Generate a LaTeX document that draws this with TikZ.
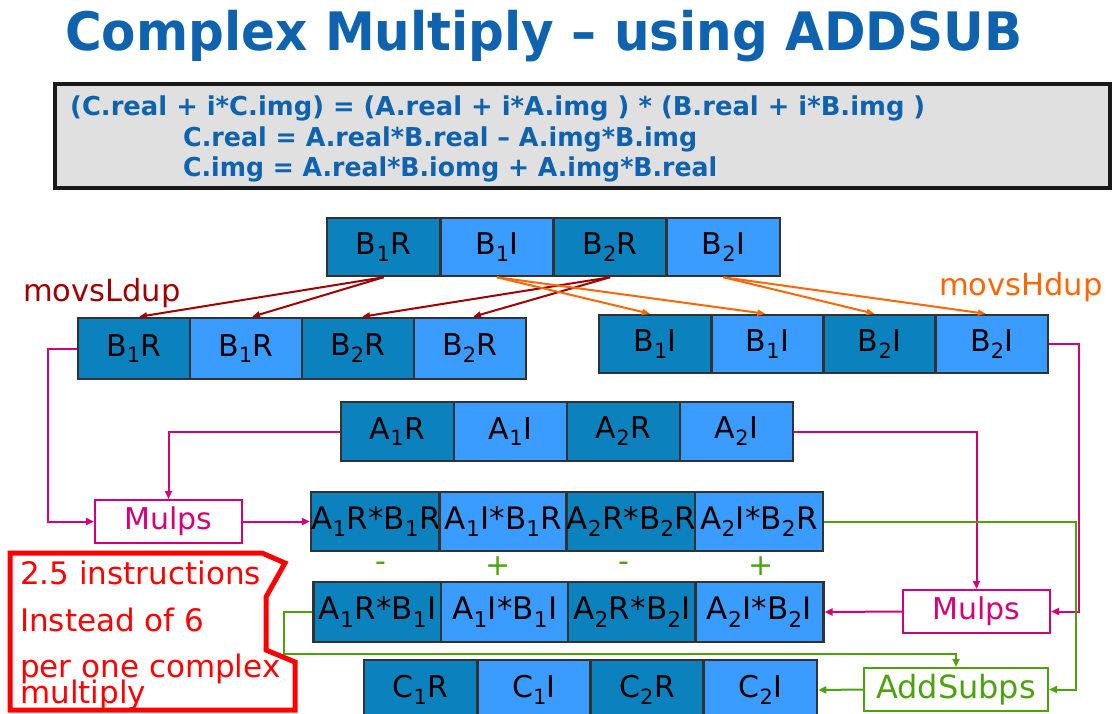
\documentclass[tikz,border=0pt]{standalone}
\usepackage{fontspec}
\setmainfont{DejaVu Sans}
\usetikzlibrary{arrows.meta,calc}

\definecolor{cdark}{RGB}{11,130,190}
\definecolor{clight}{RGB}{58,156,255}
\definecolor{cedge}{RGB}{50,50,50}
\definecolor{tblue}{RGB}{14,98,174}
\definecolor{fgray}{RGB}{224,224,224}
\definecolor{pinkc}{RGB}{214,0,118}
\definecolor{greenc}{RGB}{76,163,14}
\definecolor{dredc}{RGB}{160,0,0}
\definecolor{orangec}{RGB}{255,102,0}
\definecolor{redc}{RGB}{255,0,0}

% stretch or squeeze a text horizontally to a given width
\newcommand\fitto[2]{\resizebox{#1}{\height}{#2}}
\newcommand\sub[1]{\textsubscript{#1}}

\tikzset{
  cell/.style={draw=cedge, line width=2.5pt, inner sep=0pt, text=black,
               font=\fontsize{30}{30}\selectfont},
  dk/.style={cell, fill=cdark},
  lt/.style={cell, fill=clight},
  prod/.style={font=\fontsize{31}{31}\selectfont, minimum width=127.75pt},
  opbox/.style={draw, fill=white, line width=2pt, minimum height=43pt,
                inner sep=0pt, font=\fontsize{30}{30}\selectfont},
  wire/.style={line width=2pt, -{Triangle[length=8pt,width=7pt]}},
  dupwire/.style={line width=2pt, -{Triangle[length=8pt,width=6pt]}},
  note/.style={anchor=base west, inner sep=0pt, text=redc,
               font=\fontsize{31}{31}\selectfont},
}

\begin{document}
\begin{tikzpicture}[x=1pt,y=-1pt]
\useasboundingbox (0,0) rectangle (1114,713);

% title
\node[anchor=base west, inner sep=0pt, text=tblue, font=\bfseries\fontsize{53}{53}\selectfont]
  (title) at (65,50) {\fitto{957pt}{Complex Multiply – using ADDSUB}};

% formula panel
\node[draw=black!90, line width=4pt, fill=fgray, minimum width=1055pt, minimum height=104pt,
      inner sep=0pt] (panel) at (582.5,136) {};
\begin{scope}[every node/.style={anchor=base west, inner sep=0pt, text=tblue,
              font=\bfseries\fontsize{26}{26}\selectfont}]
  \node (f1) at (70,115) {\fitto{855pt}{(C.real + i*C.img) = (A.real + i*A.img ) * (B.real + i*B.img )}};
  \node (f2) at (183,146) {\fitto{514pt}{C.real = A.real*B.real – A.img*B.img}};
  \node (f3) at (183,176) {\fitto{534pt}{C.img = A.real*B.iomg + A.img*B.real}};
\end{scope}

% source register B
\begin{scope}[every node/.append style={minimum width=113.25pt, minimum height=58pt}]
  \node[dk] (b1) at (383.6,247) {B\sub{1}R};
  \node[lt] (b2) at (496.9,247) {B\sub{1}I};
  \node[dk] (b3) at (610.1,247) {B\sub{2}R};
  \node[lt] (b4) at (723.4,247) {B\sub{2}I};
\end{scope}

% duplicated real parts
\begin{scope}[every node/.append style={minimum width=112pt, minimum height=61pt}]
  \node[dk] (l1) at (134,348.5) {B\sub{1}R};
  \node[lt] (l2) at (246,348.5) {B\sub{1}R};
  \node[dk] (l3) at (358,348.5) {B\sub{2}R};
  \node[lt] (l4) at (470,348.5) {B\sub{2}R};
\end{scope}

% duplicated imaginary parts
\begin{scope}[every node/.append style={minimum width=112.25pt, minimum height=58pt}]
  \node[dk] (r1) at (655.1,344) {B\sub{1}I};
  \node[lt] (r2) at (767.4,344) {B\sub{1}I};
  \node[dk] (r3) at (879.6,344) {B\sub{2}I};
  \node[lt] (r4) at (991.9,344) {B\sub{2}I};
\end{scope}

% source register A
\begin{scope}[every node/.append style={minimum width=113pt, minimum height=59pt}]
  \node[dk] (a1) at (397.5,431.5) {A\sub{1}R};
  \node[lt] (a2) at (510.5,431.5) {A\sub{1}I};
  \node[dk] (a3) at (623.5,431.5) {A\sub{2}R};
  \node[lt] (a4) at (736.5,431.5) {A\sub{2}I};
\end{scope}

% products with the real parts of B
\begin{scope}[every node/.append style={minimum height=59pt}]
  \node[dk,prod] (p1) at (375.9,521.5) {A\sub{1}R*B\sub{1}R};
  \node[lt,prod] (p2) at (503.6,521.5) {A\sub{1}I*B\sub{1}R};
  \node[dk,prod] (p3) at (631.4,521.5) {A\sub{2}R*B\sub{2}R};
  \node[lt,prod] (p4) at (759.1,521.5) {A\sub{2}I*B\sub{2}R};
\end{scope}

% signs applied by the add/sub step
\begin{scope}[every node/.style={text=greenc, font=\fontsize{30}{30}\selectfont, inner sep=0pt}]
  \node (s1) at (381,567) {-};
  \node (s2) at (498,566) {+};
  \node (s3) at (624,567) {-};
  \node (s4) at (761,566) {+};
\end{scope}

% products with the imaginary parts of B
\begin{scope}[every node/.append style={minimum height=60pt}]
  \node[dk,prod] (q1) at (377.6,612) {A\sub{1}R*B\sub{1}I};
  \node[lt,prod] (q2) at (504.9,612) {A\sub{1}I*B\sub{1}I};
  \node[dk,prod] (q3) at (632.1,612) {A\sub{2}R*B\sub{2}I};
  \node[lt,prod] (q4) at (759.4,612) {A\sub{2}I*B\sub{2}I};
\end{scope}

% result register C
\begin{scope}[every node/.append style={minimum width=113.25pt, minimum height=60pt}]
  \node[dk] (c1) at (420.6,690) {C\sub{1}R};
  \node[lt] (c2) at (533.9,690) {C\sub{1}I};
  \node[dk] (c3) at (647.1,690) {C\sub{2}R};
  \node[lt] (c4) at (760.4,690) {C\sub{2}I};
\end{scope}

% operation boxes
\node[opbox, draw=pinkc, text=pinkc, minimum width=147pt] (mulL) at (168.5,521.5) {Mulps};
\node[opbox, draw=pinkc, text=pinkc, minimum width=147pt] (mulR) at (976.5,611.5) {Mulps};
\node[opbox, draw=greenc, text=greenc, minimum width=184pt, font=\fontsize{32}{32}\selectfont] (add) at (956,689.5) {AddSubps};

% movsldup / movshdup labels
\node[anchor=west, inner sep=0pt, text=dredc, font=\fontsize{30.5}{30.5}\selectfont] (ldup) at (23,293) {movsLdup};
\node[anchor=west, inner sep=0pt, text=orangec, font=\fontsize{30.5}{30.5}\selectfont] (hdup) at (939,287) {movsHdup};

% duplication of real parts
\begin{scope}[dredc, dupwire]
  \draw (b1.south) -- ([xshift=5pt]l1.north);
  \draw (b1.south) -- ([xshift=6pt]l2.north);
  \draw (b3.south) -- ([xshift=4pt]l3.north);
  \draw (b3.south) -- ([xshift=3pt]l4.north);
\end{scope}

% duplication of imaginary parts
\begin{scope}[orangec, dupwire]
  \draw (b2.south) -- ([xshift=-5pt]r1.north);
  \draw (b2.south) -- ([xshift=-2pt]r2.north);
  \draw (b4.south) -- ([xshift=-5pt]r3.north);
  \draw (b4.south) -- ([xshift=-6pt]r4.north);
\end{scope}

% multiply paths
\begin{scope}[pinkc, wire]
  \draw (l1.west) -- ++(-29,0) |- (mulL.west);
  \draw (a1.west) -| (mulL.north);
  \draw (mulL.east) -- (p1.west);
  \draw (a4.east) -| (mulR.north);
  \draw (r4.east) -- ++(30,0) |- (mulR.east);
  \draw (mulR.west) -- (q4.east);
\end{scope}

% add/sub paths
\begin{scope}[greenc, wire]
  \draw (p4.east) -- ++(252,0) |- (add.east);
  \draw (q1.west) -- ++(-28,0) -- ++(0,42) -| (add.north);
  \draw (add.west) -- (c4.east);
\end{scope}

% callout
\draw[redc, line width=5pt, line join=miter, fill=white]
  (10,553) -- (262,553) -- (285,563) -- (266,597) -- (266,650) -- (295,662)
  -- (295,710) -- (10,710) -- cycle;
\node[note] (n1) at (20,584) {2.5 instructions};
\node[note] (n2) at (20,631) {Instead of 6};
\node[note] (n3) at (20,677) {per one complex};
\node[note] (n4) at (20,703) {multiply};

\end{tikzpicture}
\end{document}
